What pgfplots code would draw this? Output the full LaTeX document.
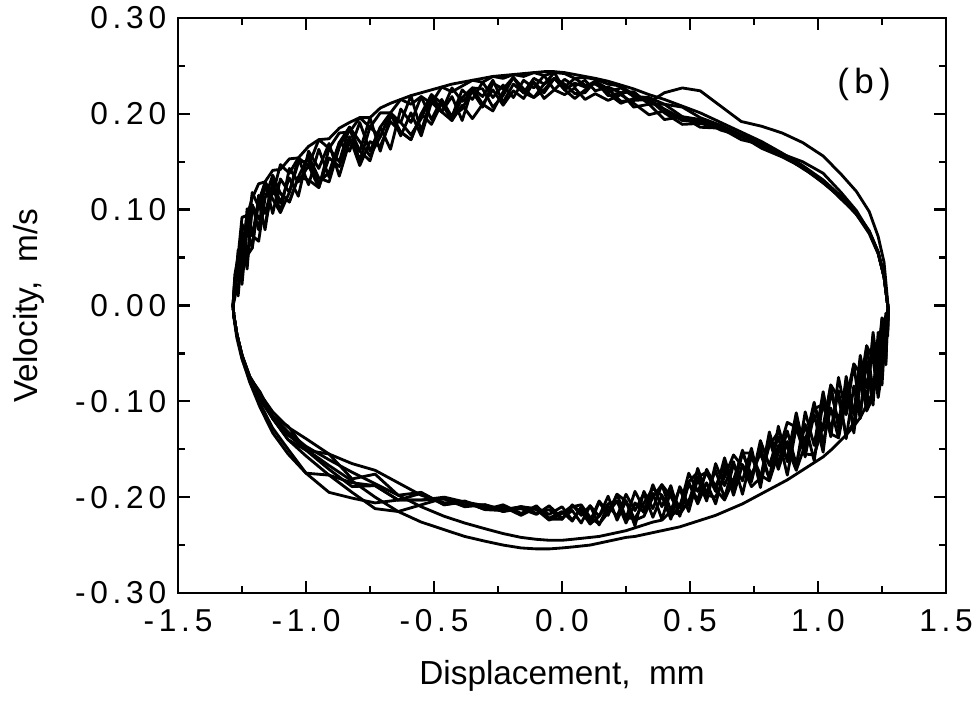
\documentclass[border=0pt]{standalone}
\usepackage{fontspec}
\setmainfont{Liberation Sans}
\newfontfamily\tickfont[LetterSpace=15]{Liberation Sans}
\usepackage{pgfplots}
\usepackage{pgfplotstable}
\pgfplotsset{compat=1.18}
\usetikzlibrary{calc}

\pgfplotstableread{
x a b c d e f g h
-1.285 0.000 0.000 0.000 0.000 0.000 0.000 0.000 0.000
-1.278 0.023 0.011 0.029 0.017 0.032 0.026 0.017 0.008
-1.265 0.016 0.052 0.034 0.058 0.052 0.028 0.010 0.046
-1.250 0.071 0.022 0.085 0.036 0.092 0.064 0.057 0.078
-1.230 0.038 0.080 0.073 0.101 0.094 0.045 0.094 0.052
-1.210 0.105 0.060 0.118 0.073 0.112 0.105 0.073 0.060
-1.185 0.079 0.115 0.103 0.109 0.127 0.091 0.067 0.109
-1.160 0.128 0.096 0.129 0.079 0.129 0.085 0.112 0.128
-1.130 0.096 0.126 0.116 0.131 0.141 0.121 0.136 0.111
-1.100 0.132 0.097 0.147 0.107 0.142 0.117 0.117 0.097
-1.065 0.118 0.143 0.138 0.133 0.153 0.108 0.108 0.118
-1.030 0.154 0.129 0.154 0.114 0.154 0.134 0.134 0.149
-0.990 0.126 0.146 0.146 0.161 0.166 0.131 0.156 0.151
-0.950 0.163 0.123 0.173 0.143 0.173 0.123 0.133 0.128
-0.910 0.134 0.164 0.164 0.169 0.174 0.154 0.129 0.139
-0.870 0.170 0.150 0.180 0.135 0.185 0.145 0.165 0.170
-0.830 0.161 0.186 0.181 0.171 0.191 0.176 0.186 0.186
-0.790 0.191 0.151 0.196 0.161 0.196 0.146 0.171 0.161
-0.750 0.161 0.186 0.186 0.196 0.196 0.171 0.156 0.151
-0.710 0.186 0.176 0.201 0.161 0.206 0.166 0.176 0.186
-0.670 0.163 0.201 0.201 0.197 0.211 0.192 0.201 0.201
-0.630 0.205 0.177 0.215 0.191 0.215 0.181 0.181 0.191
-0.590 0.191 0.201 0.210 0.219 0.219 0.173 0.173 0.178
-0.550 0.218 0.177 0.218 0.182 0.222 0.200 0.200 0.195
-0.510 0.194 0.212 0.211 0.216 0.225 0.189 0.220 0.220
-0.470 0.215 0.202 0.228 0.202 0.228 0.211 0.202 0.211
-0.430 0.197 0.227 0.223 0.218 0.231 0.193 0.193 0.197
-0.390 0.225 0.213 0.229 0.193 0.233 0.209 0.217 0.205
-0.350 0.215 0.223 0.235 0.227 0.235 0.195 0.227 0.227
-0.310 0.233 0.207 0.233 0.218 0.237 0.210 0.210 0.226
-0.270 0.217 0.232 0.239 0.235 0.239 0.225 0.203 0.207
-0.230 0.230 0.226 0.237 0.212 0.240 0.209 0.223 0.219
-0.190 0.217 0.238 0.241 0.231 0.241 0.224 0.238 0.238
-0.150 0.235 0.222 0.239 0.222 0.242 0.216 0.222 0.226
-0.110 0.227 0.233 0.243 0.237 0.243 0.233 0.217 0.217
-0.070 0.240 0.222 0.240 0.231 0.244 0.216 0.231 0.225
-0.030 0.225 0.237 0.243 0.243 0.244 0.225 0.237 0.237
0.010 0.236 0.228 0.242 0.225 0.243 0.220 0.225 0.231
0.050 0.229 0.237 0.237 0.232 0.241 0.227 0.216 0.221
0.090 0.235 0.230 0.238 0.228 0.239 0.215 0.225 0.222
0.130 0.224 0.231 0.236 0.234 0.237 0.221 0.234 0.234
0.180 0.228 0.223 0.231 0.219 0.234 0.214 0.221 0.226
0.230 0.222 0.227 0.229 0.222 0.230 0.220 0.211 0.213
0.280 0.223 0.218 0.220 0.207 0.226 0.211 0.216 0.214
0.340 0.210 0.217 0.212 0.210 0.220 0.199 0.215 0.215
0.400 0.210 0.210 0.222 0.194 0.215 0.203 0.201 0.205
0.470 0.197 0.207 0.227 0.197 0.208 0.193 0.189 0.195
0.540 0.194 0.196 0.224 0.186 0.201 0.192 0.190 0.194
0.620 0.183 0.188 0.208 0.185 0.191 0.185 0.185 0.186
0.700 0.177 0.178 0.192 0.173 0.181 0.177 0.177 0.176
0.780 0.166 0.170 0.187 0.168 0.171 0.164 0.165 0.168
0.860 0.157 0.157 0.180 0.158 0.159 0.155 0.156 0.157
0.940 0.143 0.145 0.170 0.150 0.146 0.144 0.144 0.144
1.020 0.130 0.129 0.156 0.138 0.131 0.128 0.130 0.128
1.090 0.111 0.113 0.137 0.118 0.114 0.112 0.112 0.113
1.150 0.096 0.096 0.119 0.099 0.097 0.095 0.096 0.095
1.200 0.076 0.077 0.098 0.077 0.078 0.075 0.077 0.077
1.235 0.055 0.055 0.072 0.055 0.056 0.054 0.055 0.055
1.258 0.030 0.030 0.045 0.030 0.031 0.030 0.030 0.030
1.270 0.005 0.005 0.010 0.005 0.005 0.005 0.005 0.005
1.275 -0.005 -0.005 -0.005 -0.005 -0.005 -0.005 -0.005 -0.005
1.272 -0.010 -0.032 -0.004 -0.026 -0.020 -0.012 -0.006 -0.028
1.265 -0.059 -0.008 -0.044 -0.017 -0.035 -0.062 -0.029 -0.020
1.250 -0.017 -0.062 -0.013 -0.083 -0.055 -0.024 -0.069 -0.013
1.235 -0.069 -0.028 -0.085 -0.043 -0.075 -0.073 -0.096 -0.050
1.215 -0.028 -0.104 -0.044 -0.088 -0.090 -0.032 -0.056 -0.096
1.190 -0.102 -0.058 -0.086 -0.042 -0.104 -0.106 -0.042 -0.110
1.165 -0.060 -0.114 -0.052 -0.118 -0.117 -0.079 -0.083 -0.071
1.140 -0.129 -0.061 -0.114 -0.084 -0.126 -0.133 -0.122 -0.061
1.110 -0.089 -0.114 -0.074 -0.139 -0.135 -0.081 -0.135 -0.099
1.080 -0.128 -0.075 -0.138 -0.089 -0.143 -0.121 -0.096 -0.138
1.050 -0.083 -0.137 -0.107 -0.131 -0.151 -0.090 -0.083 -0.134
1.020 -0.130 -0.100 -0.143 -0.090 -0.158 -0.153 -0.126 -0.103
0.985 -0.104 -0.162 -0.101 -0.146 -0.164 -0.114 -0.156 -0.108
0.950 -0.158 -0.124 -0.142 -0.111 -0.170 -0.155 -0.155 -0.145
0.915 -0.127 -0.166 -0.121 -0.169 -0.176 -0.112 -0.127 -0.172
0.880 -0.177 -0.131 -0.163 -0.142 -0.182 -0.160 -0.122 -0.148
0.845 -0.137 -0.165 -0.126 -0.171 -0.187 -0.146 -0.154 -0.132
0.810 -0.167 -0.132 -0.181 -0.140 -0.192 -0.181 -0.183 -0.146
0.775 -0.141 -0.182 -0.154 -0.190 -0.197 -0.148 -0.177 -0.180
0.740 -0.184 -0.157 -0.177 -0.149 -0.202 -0.182 -0.154 -0.189
0.705 -0.166 -0.197 -0.154 -0.183 -0.207 -0.151 -0.154 -0.168
0.670 -0.198 -0.163 -0.191 -0.166 -0.211 -0.184 -0.182 -0.156
0.635 -0.166 -0.188 -0.159 -0.201 -0.215 -0.172 -0.203 -0.179
0.600 -0.189 -0.165 -0.194 -0.172 -0.219 -0.207 -0.192 -0.200
0.565 -0.171 -0.204 -0.174 -0.196 -0.222 -0.185 -0.174 -0.198
0.530 -0.203 -0.181 -0.194 -0.170 -0.225 -0.207 -0.179 -0.174
0.495 -0.186 -0.215 -0.175 -0.208 -0.228 -0.184 -0.204 -0.184
0.460 -0.220 -0.191 -0.211 -0.189 -0.231 -0.218 -0.218 -0.209
0.425 -0.188 -0.214 -0.194 -0.223 -0.233 -0.215 -0.199 -0.221
0.390 -0.210 -0.187 -0.223 -0.198 -0.235 -0.224 -0.187 -0.198
0.355 -0.187 -0.212 -0.196 -0.221 -0.237 -0.226 -0.200 -0.191
0.320 -0.216 -0.194 -0.212 -0.196 -0.239 -0.229 -0.220 -0.206
0.285 -0.206 -0.230 -0.194 -0.214 -0.241 -0.232 -0.224 -0.222
0.250 -0.227 -0.204 -0.222 -0.197 -0.242 -0.235 -0.204 -0.222
0.215 -0.204 -0.224 -0.197 -0.220 -0.244 -0.237 -0.197 -0.204
0.180 -0.216 -0.199 -0.219 -0.209 -0.246 -0.239 -0.216 -0.207
0.145 -0.204 -0.220 -0.205 -0.229 -0.248 -0.241 -0.228 -0.220
0.110 -0.225 -0.209 -0.228 -0.209 -0.250 -0.242 -0.221 -0.228
0.075 -0.212 -0.227 -0.210 -0.219 -0.251 -0.243 -0.208 -0.215
0.040 -0.224 -0.214 -0.225 -0.208 -0.252 -0.244 -0.210 -0.209
0.000 -0.210 -0.222 -0.215 -0.223 -0.253 -0.245 -0.223 -0.217
-0.050 -0.218 -0.209 -0.222 -0.213 -0.254 -0.245 -0.223 -0.224
-0.100 -0.211 -0.218 -0.209 -0.217 -0.254 -0.244 -0.212 -0.213
-0.160 -0.219 -0.212 -0.217 -0.210 -0.253 -0.242 -0.210 -0.210
-0.230 -0.210 -0.215 -0.208 -0.213 -0.250 -0.238 -0.214 -0.215
-0.300 -0.212 -0.208 -0.213 -0.208 -0.246 -0.233 -0.213 -0.209
-0.380 -0.204 -0.208 -0.205 -0.210 -0.241 -0.227 -0.205 -0.205
-0.460 -0.208 -0.201 -0.208 -0.202 -0.234 -0.220 -0.200 -0.206
-0.550 -0.196 -0.208 -0.195 -0.203 -0.226 -0.210 -0.203 -0.198
-0.640 -0.203 -0.215 -0.198 -0.203 -0.215 -0.198 -0.203 -0.185
-0.730 -0.188 -0.212 -0.176 -0.206 -0.200 -0.186 -0.188 -0.172
-0.820 -0.189 -0.195 -0.181 -0.201 -0.183 -0.174 -0.185 -0.165
-0.910 -0.171 -0.177 -0.155 -0.195 -0.167 -0.161 -0.177 -0.155
-1.000 -0.151 -0.175 -0.151 -0.175 -0.150 -0.147 -0.157 -0.139
-1.070 -0.140 -0.155 -0.126 -0.150 -0.135 -0.132 -0.140 -0.127
-1.130 -0.118 -0.133 -0.116 -0.128 -0.118 -0.115 -0.118 -0.111
-1.180 -0.092 -0.106 -0.090 -0.102 -0.098 -0.096 -0.094 -0.092
-1.220 -0.074 -0.080 -0.075 -0.077 -0.078 -0.076 -0.074 -0.074
-1.250 -0.052 -0.055 -0.052 -0.052 -0.056 -0.053 -0.052 -0.052
-1.270 -0.030 -0.030 -0.030 -0.030 -0.034 -0.031 -0.030 -0.030
-1.282 -0.010 -0.010 -0.010 -0.010 -0.012 -0.010 -0.010 -0.010
-1.285 0.000 0.000 0.000 0.000 0.000 0.000 0.000 0.000
}\loops

\begin{document}
\begin{tikzpicture}
\begin{axis}[
  scale only axis, width=230.4pt, height=172.5pt,
  xmin=-1.5, xmax=1.5, ymin=-0.3, ymax=0.3,
  xtick={-1.5,-1,-0.5,0,0.5,1,1.5},
  xticklabels={-1.5,-1.0,-0.5,0.0,0.5,1.0,1.5},
  ytick={-0.3,-0.2,-0.1,0,0.1,0.2,0.3},
  yticklabels={-0.30,-0.20,-0.10,0.00,0.10,0.20,0.30},
  minor x tick num=1, minor y tick num=1,
  tick align=inside, major tick length=3.5pt, minor tick length=2pt,
  every tick/.style={black, line width=0.7pt},
  axis line style={line width=0.8pt},
  ticklabel style={font=\tickfont\fontsize{9.5}{11}\selectfont},
  xticklabel style={yshift=-1.5pt},
  xlabel={Displacement,\ \ mm}, ylabel={Velocity,\ \ m/s},
  label style={font=\fontsize{10}{12}\selectfont},
  xlabel style={at={(axis description cs:0.5,-0.160)}, anchor=base},
  ylabel style={at={(axis description cs:-0.1823,0.5)}, anchor=base},
]
\addplot[black, no markers, line width=0.85pt, line join=round] table[x=x, y=a] {\loops};
\addplot[black, no markers, line width=0.85pt, line join=round] table[x=x, y=b] {\loops};
\addplot[black, no markers, line width=0.85pt, line join=round] table[x=x, y=c] {\loops};
\addplot[black, no markers, line width=0.85pt, line join=round] table[x=x, y=d] {\loops};
\addplot[black, no markers, line width=0.85pt, line join=round] table[x=x, y=e] {\loops};
\addplot[black, no markers, line width=0.85pt, line join=round] table[x=x, y=f] {\loops};
\addplot[black, no markers, line width=0.85pt, line join=round] table[x=x, y=g] {\loops};
\addplot[black, no markers, line width=0.85pt, line join=round] table[x=x, y=h] {\loops};
\node[font=\tickfont\fontsize{10.5}{12}\selectfont] at (axis cs:1.18,0.231) {(b)};
\coordinate (bl) at (rel axis cs:0,0);
\coordinate (tr) at (rel axis cs:1,1);
\end{axis}
\pgfresetboundingbox
\path ($(bl)+(-53.4pt,-33.9pt)$) rectangle ($(tr)+(9.3pt,5.4pt)$);
\end{tikzpicture}
\end{document}
